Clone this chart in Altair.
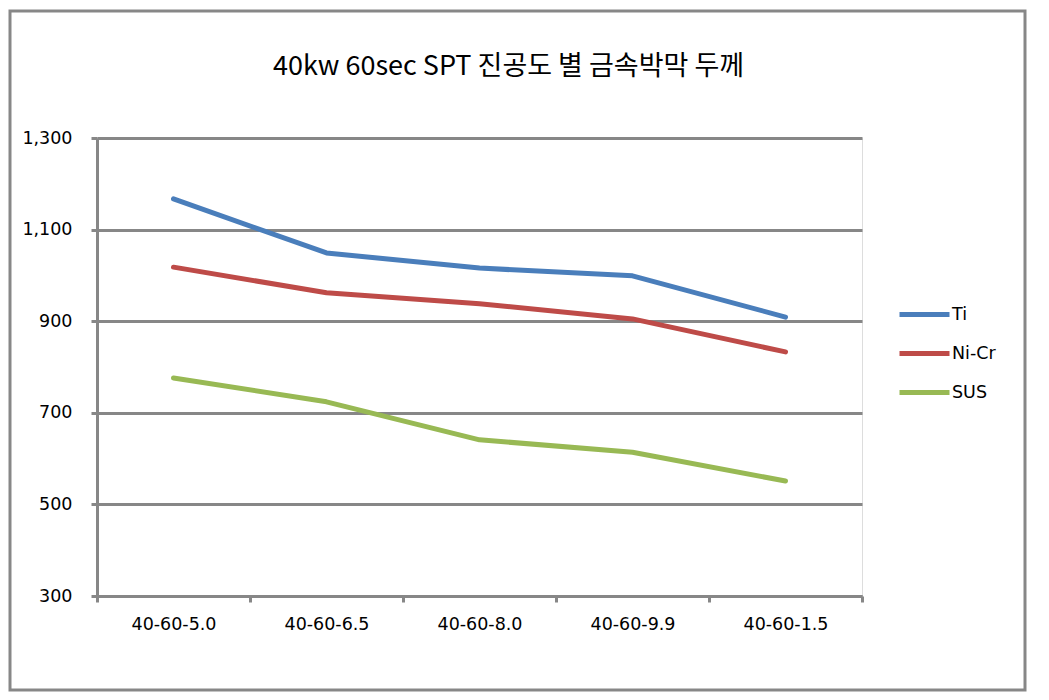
import altair as alt
import pandas as pd

categories = ["40-60-5.0", "40-60-6.5", "40-60-8.0", "40-60-9.9", "40-60-1.5"]
series_names = ["Ti", "Ni-Cr", "SUS"]
ti = [1167, 1049, 1016, 999, 909]
nicr = [1018, 962, 938, 905, 833]
sus = [776, 724, 641, 614, 551]
y_ticks = [300, 500, 700, 900, 1100, 1300]
colors = ["#4A7EBB", "#BE4B48", "#98B954"]

rows = []
for name, vals in zip(series_names, [ti, nicr, sus]):
    for c, v in zip(categories, vals):
        rows.append({"cat": c, "series": name, "value": v})
df = pd.DataFrame(rows)

GRID = "#878787"
FONT = "DejaVu Sans"

frame = alt.Chart(pd.DataFrame({"a": [0]})).mark_rect(
    fill=None, stroke=GRID, strokeWidth=3, clip=False
).encode(
    x=alt.value(-87), x2=alt.value(928), y=alt.value(-127), y2=alt.value(552)
)

lines = alt.Chart(df).mark_line(strokeWidth=5, strokeCap="round", strokeJoin="round").encode(
    x=alt.X("cat:N", sort=categories, title=None,
            scale=alt.Scale(paddingInner=0, paddingOuter=0),
            axis=alt.Axis(labelAngle=0, tickBand="extent", domainColor=GRID, domainWidth=3,
                          tickColor=GRID, tickWidth=3, tickSize=6, labelPadding=13,
                          labelFont=FONT, labelFontSize=17.5, labelColor="#000000", grid=False)),
    y=alt.Y("value:Q", title=None,
            scale=alt.Scale(domain=[300, 1300], nice=False, zero=False),
            axis=alt.Axis(values=y_ticks, format=",.0f", domainColor=GRID, domainWidth=3,
                          tickColor=GRID, tickWidth=3, tickSize=6, labelPadding=19,
                          gridColor=GRID, gridWidth=3, grid=True,
                          labelFont=FONT, labelFontSize=17.5, labelColor="#000000")),
    color=alt.Color("series:N", sort=series_names,
                    scale=alt.Scale(domain=series_names, range=colors),
                    legend=alt.Legend(title=None, orient="none", legendX=800, legendY=149,
                                      symbolType="stroke", symbolSize=2500, symbolStrokeWidth=5,
                                      labelFont=FONT, labelFontSize=17.5, labelColor="#000000",
                                      rowPadding=1, labelOffset=0))
)

chart = alt.layer(frame, lines).properties(
    width=765, height=458,
    padding={"left": 89, "top": 130, "right": 176, "bottom": 96},
    autosize=alt.AutoSizeParams(type="none"),
    title=alt.Title("40kw 60sec SPT 진공도 별 금속박막 두께", font="Noto Sans CJK KR",
                    fontSize=27, fontWeight="normal", color="#000000", offset=-71, dx=29,
                    anchor="middle"),
).configure_view(stroke=None).configure(background="white")

chart.save("out.html", embed_options={"renderer": "svg", "actions": False})
